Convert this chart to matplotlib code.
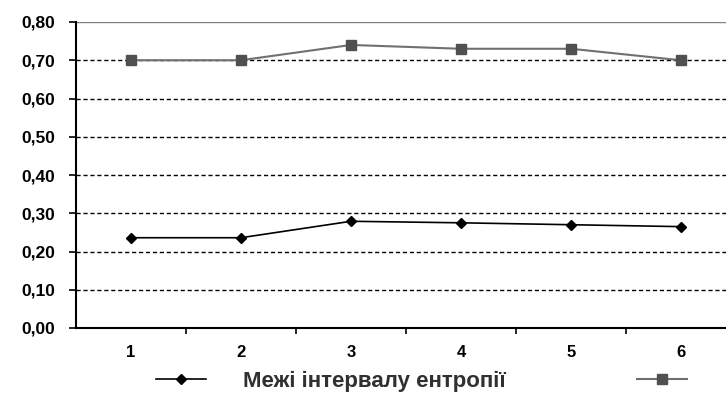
import matplotlib.pyplot as plt
import numpy as np

cats = ['1', '2', '3', '4', '5', '6']
upper = [0.70, 0.70, 0.74, 0.73, 0.73, 0.70]
lower = [0.236, 0.236, 0.279, 0.275, 0.270, 0.265]
yticks = [0.0, 0.1, 0.2, 0.3, 0.4, 0.5, 0.6, 0.7, 0.8]
legend_label = 'Межі інтервалу ентропії'

plt.rcParams['font.family'] = ['Liberation Sans', 'DejaVu Sans']

fig = plt.figure(figsize=(7.26, 4.05), dpi=100)
ax = fig.add_axes([76 / 726, 77 / 405, 660 / 726, 306 / 405])

x = np.arange(1, len(cats) + 1)

# dashed gridlines
for v in yticks[1:-1]:
    ax.axhline(v, color='black', lw=1, linestyle=(0, (3, 2)), zorder=1)
ax.axhline(0.8, color='#808080', lw=1, zorder=1)

l1, = ax.plot(x, lower, color='black', lw=1.2, marker='D', markersize=5.5,
              markerfacecolor='black', zorder=3)
l2, = ax.plot(x, upper, color='#707070', lw=1.5, marker='s', markersize=7,
              markerfacecolor='#505050', markeredgecolor='#505050', zorder=3)

ax.set_xlim(0.5, 6.5)
ax.set_ylim(0, 0.8)
ax.set_yticks(yticks)
ax.yaxis.set_major_formatter(plt.FuncFormatter(lambda v, p: ('%.2f' % v).replace('.', ',')))

ax.set_xticks(x)
ax.set_xticklabels(cats)
ax.set_xticks(np.arange(1.5, 6.5, 1), minor=True)
ax.tick_params(axis='x', which='major', length=0, pad=12, labelsize=12)
ax.tick_params(axis='x', which='minor', length=4, width=1.2, direction='out')
ax.tick_params(axis='y', length=5, width=1.2, direction='out', labelsize=12.5, pad=10)
for lab in ax.get_xticklabels() + ax.get_yticklabels():
    lab.set_fontweight('bold')

for s in ['top', 'right']:
    ax.spines[s].set_visible(False)
ax.spines['left'].set_linewidth(1.5)
ax.spines['bottom'].set_linewidth(1.5)

leg = fig.legend(handles=[l1, l2], labels=[legend_label, ''], loc='center left',
                 bbox_to_anchor=(136 / 726, 1 - 381 / 405), ncol=2, frameon=False,
                 prop={'weight': 'bold', 'size': 16}, handlelength=2.25,
                 columnspacing=5.9, handletextpad=1.65)
for t in leg.get_texts():
    t.set_color('#303030')

fig.savefig('out.png', dpi=100)
